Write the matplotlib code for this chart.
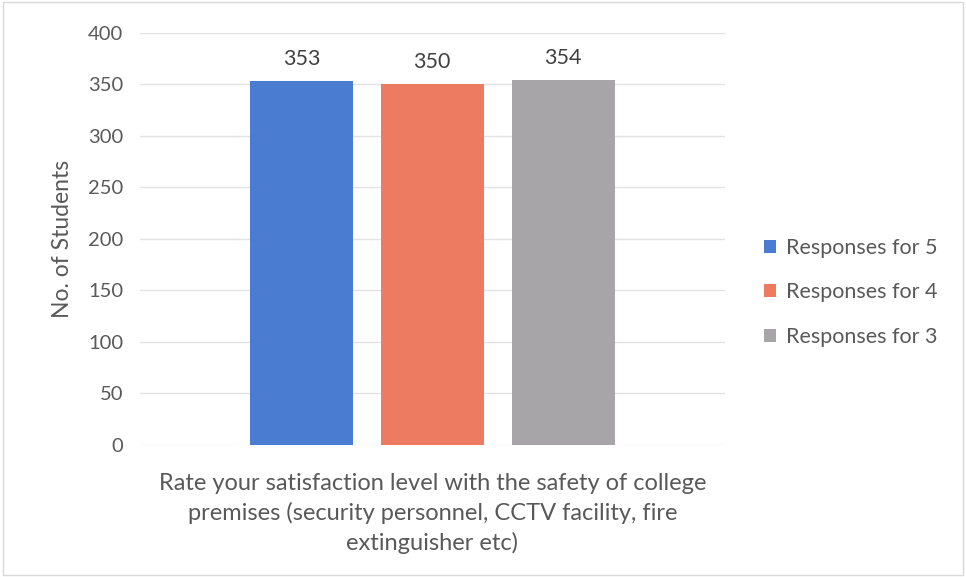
import matplotlib.pyplot as plt
from matplotlib.patches import Rectangle

# data
series = ["Responses for 5", "Responses for 4", "Responses for 3"]
values = [353, 350, 354]
colors = ["#4A7DD2", "#EC7B61", "#A8A5A9"]
category = ("Rate your satisfaction level with the safety of college\n"
            "premises (security personnel, CCTV facility, fire\n"
            "extinguisher etc)")
yticks = [0, 50, 100, 150, 200, 250, 300, 350, 400]

plt.rcParams['font.family'] = ['Lato', 'DejaVu Sans']
txt = "#595959"

fig = plt.figure(figsize=(9.66, 5.77), dpi=100)
ax = fig.add_axes([0.145, 0.229, 0.605, 0.714])

positions = [-1, 0, 1]
for pos, val, col, name in zip(positions, values, colors, series):
    ax.bar(pos, val, width=0.785, color=col, label=name, zorder=2)
    ax.text(pos, val + 12, str(val), ha='center', va='bottom',
            fontsize=15.5, color="#404040")

ax.set_xlim(-2.233, 2.233)
ax.set_ylim(0, 400)
ax.set_yticks(yticks)
ax.set_yticklabels([str(t) for t in yticks], fontsize=14.5, color=txt)
ax.tick_params(axis='y', length=0, pad=12)
ax.set_xticks([])
ax.grid(axis='y', color="#E3E3E3", linewidth=1, zorder=0)
for s in ax.spines.values():
    s.set_visible(False)

ax.set_ylabel("No. of Students", fontsize=16.5, color=txt, labelpad=11)
ax.set_xlabel(category, fontsize=17, color=txt, labelpad=20, linespacing=1.45)

leg = ax.legend(loc='center left', bbox_to_anchor=(1.035, 0.37), frameon=False,
                fontsize=15.5, handlelength=0.55, handleheight=0.55,
                handletextpad=0.45, labelspacing=1.15)
for t in leg.get_texts():
    t.set_color(txt)

fig.patches.append(Rectangle((0.003, 0.003), 0.994, 0.994, transform=fig.transFigure,
                             fill=False, edgecolor="#D9D9D9", linewidth=1))

fig.savefig("out.png", dpi=100)
